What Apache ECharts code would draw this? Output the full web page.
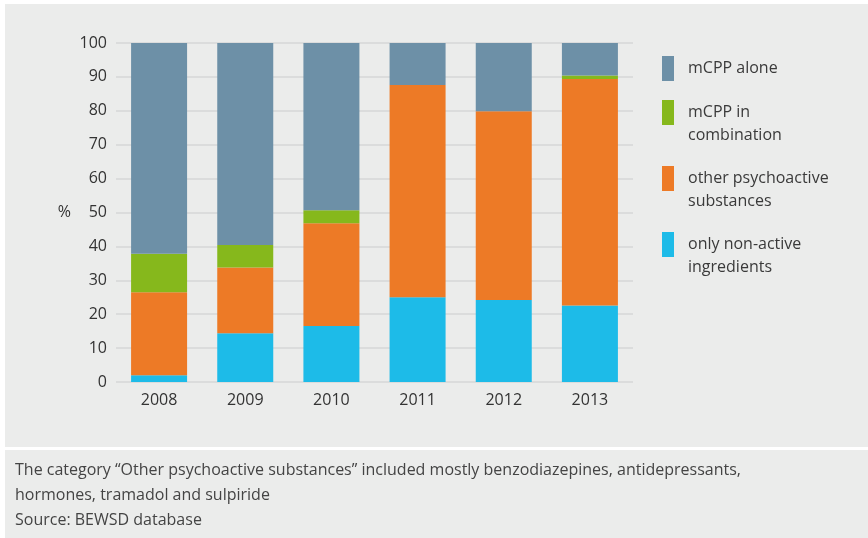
<!DOCTYPE html>
<html>
<head>
<meta charset="utf-8">
<script src="https://cdn.jsdelivr.net/npm/echarts@6/dist/echarts.min.js"></script>
<style>
html,body{margin:0;padding:0;background:#ffffff;}
#chart{width:868px;height:538px;}
</style>
</head>
<body>
<div id="chart"></div>
<script>
const years = ['2008', '2009', '2010', '2011', '2012', '2013'];
const onlyNonActive = [2.0, 14.4, 16.5, 25.0, 24.2, 22.6];
const otherPsychoactive = [24.5, 19.4, 30.3, 62.6, 55.7, 66.8];
const mcppCombination = [11.3, 6.6, 3.9, 0, 0, 1.0];
const mcppAlone = [62.2, 59.6, 49.3, 12.4, 20.1, 9.6];
const yTicks = { min: 0, max: 100, interval: 10 };
const seriesNames = ['mCPP alone', 'mCPP in\ncombination', 'other psychoactive\nsubstances', 'only non-active\ningredients'];
const footerLines = [
  'The category \u201cOther psychoactive substances\u201d included mostly benzodiazepines, antidepressants,',
  'hormones, tramadol and sulpiride',
  'Source: BEWSD database'
];

const colors = {
  alone: '#6d90a7',
  combo: '#86b81c',
  other: '#ed7a26',
  inactive: '#1dbbe8'
};
const FONT = '"Open Sans", "Noto Sans", sans-serif';
const chart = echarts.init(document.getElementById('chart'));

const option = {
  animation: false,
  textStyle: { fontFamily: FONT },
  graphic: [
    { type: 'rect', z: -10, shape: { x: 5, y: 4, width: 863, height: 443 }, style: { fill: '#ebeceb' }, silent: true },
    { type: 'rect', z: -10, shape: { x: 5, y: 450, width: 863, height: 88 }, style: { fill: '#ebeceb' }, silent: true },
    { type: 'text', left: 15, top: 458, silent: true,
      style: { text: footerLines.join('\n'), fill: '#444444', font: '16px ' + FONT, lineHeight: 25 } }
  ],
  grid: { left: 116, right: 235, top: 43, bottom: 156 },
  legend: {
    orient: 'vertical',
    left: 662,
    top: 56,
    padding: 0,
    itemWidth: 12,
    itemHeight: 25,
    itemGap: -3,
    icon: 'rect',
    selectedMode: false,
    formatter: function (name) {
      return name.indexOf('\n') >= 0 ? '\n' + name : name;
    },
    textStyle: { fontSize: 16, lineHeight: 23, color: '#3a3a3a', fontFamily: FONT, padding: [0, 0, 0, 9] },
    data: seriesNames
  },
  xAxis: {
    type: 'category',
    data: years,
    axisLine: { show: false },
    axisTick: { show: false },
    axisLabel: { color: '#333333', fontSize: 16, margin: 10, fontFamily: FONT }
  },
  yAxis: {
    type: 'value',
    min: yTicks.min,
    max: yTicks.max,
    interval: yTicks.interval,
    name: '%',
    nameLocation: 'middle',
    nameRotate: 0,
    nameGap: 45,
    nameTextStyle: { color: '#333333', fontSize: 16, fontFamily: FONT },
    axisLine: { show: false },
    axisTick: { show: false },
    axisLabel: { color: '#333333', fontSize: 16, margin: 9, fontFamily: FONT },
    splitLine: { lineStyle: { color: '#d6d7d7', width: 1.5 } }
  },
  series: [
    { name: seriesNames[3], type: 'bar', stack: 'a', barWidth: 56, data: onlyNonActive, itemStyle: { color: colors.inactive } },
    { name: seriesNames[2], type: 'bar', stack: 'a', barWidth: 56, data: otherPsychoactive, itemStyle: { color: colors.other } },
    { name: seriesNames[1], type: 'bar', stack: 'a', barWidth: 56, data: mcppCombination, itemStyle: { color: colors.combo } },
    { name: seriesNames[0], type: 'bar', stack: 'a', barWidth: 56, data: mcppAlone, itemStyle: { color: colors.alone } }
  ]
};
chart.setOption(option);
</script>
</body>
</html>
